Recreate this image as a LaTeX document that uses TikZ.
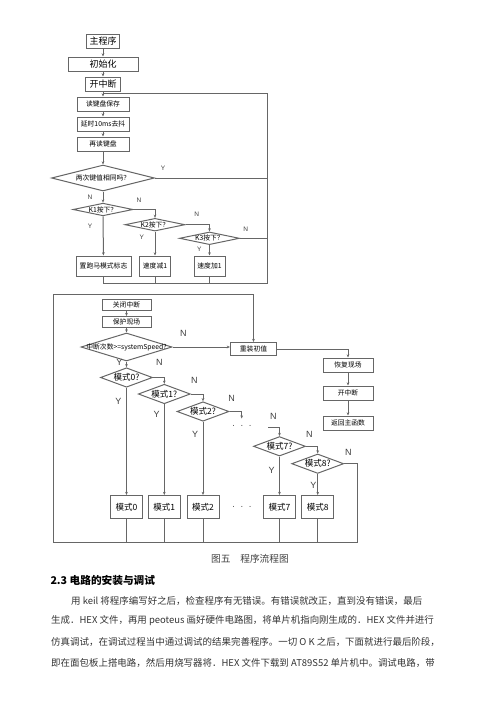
\documentclass[tikz,border=0pt]{standalone}
\usepackage{fontspec}
\setmainfont{Liberation Sans}
\newfontfamily\cjk{Noto Sans CJK SC}
\usetikzlibrary{shapes.geometric,arrows.meta}
\XeTeXlinebreaklocale "zh"
\XeTeXlinebreakskip=0pt plus 1pt

\tikzset{every picture/.style={line width=0.75pt}}
\tikzset{
  flowbox/.style={draw=black!60, rectangle, inner sep=0pt, font=\cjk\fontsize{5.1}{6}\selectfont},
  mainbox/.style={flowbox, font=\cjk\fontsize{6.75}{8}\selectfont},
  modebox/.style={flowbox, minimum width=24pt, minimum height=17.25pt, font=\cjk\fontsize{6.4}{8}\selectfont},
  decide/.style={draw=black!60, diamond, inner sep=0pt},
  modeq/.style={decide, minimum width=39pt, minimum height=14.6pt},
  qtext/.style={inner sep=0pt, font=\cjk\fontsize{5.1}{6}\selectfont},
  modeqtext/.style={inner sep=0pt, font=\cjk\fontsize{6.4}{8}\selectfont},
  yesno/.style={inner sep=0pt, text=black!75, font=\fontsize{4.9}{6}\selectfont},
  bigyesno/.style={inner sep=0pt, text=black!75, font=\fontsize{6.75}{8}\selectfont},
  flowline/.style={draw=black!60},
  flowarrow/.style={draw=black!60, -{Stealth[length=2.4pt,width=2pt]}},
  textline/.style={anchor=west, inner sep=0pt, align=justify, text=black!80, font=\cjk\fontsize{7.1}{9}\selectfont},
}

\begin{document}
\begin{tikzpicture}[x=0.75pt,y=0.75pt,yscale=-1,xscale=1]
  \useasboundingbox (0,0) rectangle (500,707);

  %Shape: Rectangle [main program]
  \node[mainbox, minimum width=24.75pt, minimum height=10.5pt] (main) at (103,41) {主程序};
  %Shape: Rectangle
  \node[mainbox, minimum width=52.5pt, minimum height=10.5pt] (init) at (103,64) {初始化};
  %Shape: Rectangle
  \node[mainbox, minimum width=26.25pt, minimum height=10.5pt] (eint) at (103,84) {开中断};
  %Shape: Rectangle
  \node[flowbox, minimum width=39pt, minimum height=10.5pt] (kread) at (103,104) {读键盘保存};
  %Shape: Rectangle
  \node[flowbox, minimum width=39pt, minimum height=10.5pt] (delay) at (103,124) {延时10ms去抖};
  %Shape: Rectangle
  \node[flowbox, minimum width=39pt, minimum height=10.5pt] (kread2) at (103,144) {再读键盘};
  %Shape: Diamond
  \node[decide, minimum width=77.25pt, minimum height=19.5pt] (same) at (103,178) {};
  \node[qtext] (samet) at (same) {两次键值相同吗？};
  %Shape: Diamond
  \node[decide, minimum width=45pt, minimum height=9.5pt] (k1) at (103,209.5) {};
  \node[qtext] (k1t) at (k1) {K1按下？};
  %Shape: Diamond
  \node[decide, minimum width=45pt, minimum height=9.5pt] (k2) at (155,224.7) {};
  \node[qtext] (k2t) at (k2) {K2按下？};
  %Shape: Diamond
  \node[decide, minimum width=45pt, minimum height=9.5pt] (k3) at (209.5,238.3) {};
  \node[qtext] (k3t) at (k3) {K3按下？};
  %Shape: Rectangle
  \node[flowbox, minimum width=41.25pt, minimum height=15pt] (mflag) at (103.5,266) {置跑马模式标志};
  %Shape: Rectangle
  \node[flowbox, minimum width=23.25pt, minimum height=15pt] (sdec) at (155,266) {速度减1};
  %Shape: Rectangle
  \node[flowbox, minimum width=23.25pt, minimum height=15pt] (sinc) at (209.5,266) {速度加1};

  \coordinate (loopa) at (103,93);
  \coordinate (loopb) at (267,93);
  \coordinate (loopc) at (267,283);
  \coordinate (loopd) at (103.5,283);

  %Straight Lines
  \draw[flowarrow] (main) -- (init);
  \draw[flowarrow] (init) -- (eint);
  \draw[flowarrow] (eint) -- (kread);
  \draw[flowarrow] (kread) -- (delay);
  \draw[flowarrow] (delay) -- (kread2);
  \draw[flowarrow] (kread2) -- (same);
  \draw[flowarrow] (same) -- (k1);
  \draw[flowarrow] (k1) -- (mflag);
  \draw[flowarrow] (k1.east) -| (k2.north);
  \draw[flowarrow] (k2) -- (sdec);
  \draw[flowarrow] (k2.east) -| (k3.north);
  \draw[flowarrow] (k3) -- (sinc);
  \draw[flowline] (k3.east) -- (k3.east -| loopb);
  \draw[flowline] (same.east) -- (same.east -| loopb);
  \draw[flowline] (mflag) -- (loopd) -- (loopc) -- (loopb) -- (loopa);
  \draw[flowline] (sdec) -- (sdec |- loopd);
  \draw[flowline] (sinc) -- (sinc |- loopd);

  % Text Node
  \node[yesno] (ysame) at (163,168) {Y};
  \node[yesno] (nsame) at (90,197) {N};
  \node[yesno] (nk1) at (139,200) {N};
  \node[yesno] (yk1) at (90,226) {Y};
  \node[yesno] (nk2) at (196.7,214) {N};
  \node[yesno] (yk2) at (141.7,237.7) {Y};
  \node[yesno] (nk3) at (245.7,229) {N};
  \node[yesno] (yk3) at (199.3,249) {Y};

  %Shape: Rectangle [interrupt]
  \node[flowbox, minimum width=36.75pt, minimum height=8.25pt] (cint) at (126.5,304.5) {关闭中断};
  %Shape: Rectangle
  \node[flowbox, minimum width=36.75pt, minimum height=8.25pt] (prot) at (126.5,322) {保护现场};
  %Shape: Diamond
  \node[decide, minimum width=68.25pt, minimum height=21pt] (cnt) at (126.5,347) {};
  \node[qtext] (cntt) at (cnt) {中断次数>=systemSpeed?};
  %Shape: Rectangle
  \node[flowbox, minimum width=34.5pt, minimum height=9.75pt] (reload) at (253.5,349) {重装初值};
  %Shape: Rectangle
  \node[flowbox, minimum width=37.5pt, minimum height=10.5pt] (resto) at (348,365) {恢复现场};
  %Shape: Rectangle
  \node[flowbox, minimum width=37.5pt, minimum height=10.5pt] (eint2) at (348,393) {开中断};
  %Shape: Rectangle
  \node[flowbox, minimum width=37.5pt, minimum height=10.5pt] (ret) at (348,423) {返回主函数};

  %Shape: Diamond
  \node[modeq] (m0q) at (126.5,377.5) {};
  \node[modeqtext] (m0qt) at (m0q) {模式0?};
  \node[modeq] (m1q) at (164.3,394) {};
  \node[modeqtext] (m1qt) at (m1q) {模式1?};
  \node[modeq] (m2q) at (203,411.5) {};
  \node[modeqtext] (m2qt) at (m2q) {模式2?};
  \node[modeq] (m7q) at (279.5,446.3) {};
  \node[modeqtext] (m7qt) at (m7q) {模式7?};
  \node[modeq] (m8q) at (317.7,463.7) {};
  \node[modeqtext] (m8qt) at (m8q) {模式8?};

  %Shape: Rectangle
  \node[modebox] (m0) at (126.5,507) {模式0};
  \node[modebox] (m1) at (164.3,507) {模式1};
  \node[modebox] (m2) at (203,507) {模式2};
  \node[modebox] (m7) at (279.5,507) {模式7};
  \node[modebox] (m8) at (317.7,507) {模式8};

  % Text Node
  \node[inner sep=0pt, font=\fontsize{7}{8}\selectfont, text=black!70] (dotsa) at (242,427) {·\ \ ·\ \ ·};
  \node[inner sep=0pt, font=\fontsize{7}{8}\selectfont, text=black!70] (dotsb) at (242,508) {·\ \ ·\ \ ·};

  \coordinate (ra) at (53,294);
  \coordinate (rb) at (53,542.5);
  \coordinate (rc) at (357,542.5);
  \coordinate (stuba) at (241.7,418.5);
  \coordinate (stubb) at (268.3,427);

  %Straight Lines
  \draw[flowarrow] (cint) -- (prot);
  \draw[flowarrow] (prot) -- (cnt);
  \draw[flowarrow] (cnt.east) -- (cnt.east -| reload.west);
  \draw[flowarrow] (rc) -- (rb) -- (ra) -| (reload);
  \draw[flowarrow] (reload.east) -| (resto);
  \draw[flowarrow] (resto) -- (eint2);
  \draw[flowarrow] (eint2) -- (ret);
  \draw[flowarrow] (cnt) -- (m0q);
  \draw[flowarrow] (m0q.east) -| (m1q.north);
  \draw[flowarrow] (m1q.east) -| (m2q.north);
  \draw[flowarrow] (m2q.east) -| (stuba);
  \draw[flowarrow] (stubb) -| (m7q.north);
  \draw[flowarrow] (m7q.east) -| (m8q.north);
  \draw[flowline] (m8q.east) -| (rc);
  \draw[flowarrow] (m0q) -- (m0);
  \draw[flowarrow] (m1q) -- (m1);
  \draw[flowarrow] (m2q) -- (m2);
  \draw[flowarrow] (m7q) -- (m7);
  \draw[flowarrow] (m8q) -- (m8);
  \draw[flowline] (m0) -- (m0 |- rb);
  \draw[flowline] (m1) -- (m1 |- rb);
  \draw[flowline] (m2) -- (m2 |- rb);
  \draw[flowline] (m7) -- (m7 |- rb);
  \draw[flowline] (m8) -- (m8 |- rb);

  % Text Node
  \node[bigyesno] (ncnt) at (183.3,333.3) {N};
  \node[bigyesno] (ycnt) at (119.3,362) {Y};
  \node[bigyesno] (nm0) at (159.3,362) {N};
  \node[bigyesno] (ym0) at (118.3,401.7) {Y};
  \node[bigyesno] (nm1) at (194.3,380) {N};
  \node[bigyesno] (ym1) at (156.7,414) {Y};
  \node[bigyesno] (nm2) at (231.7,398.3) {N};
  \node[bigyesno] (ym2) at (195,434.3) {Y};
  \node[bigyesno] (ngap) at (273.3,416.7) {N};
  \node[bigyesno] (nm7) at (309.3,434.3) {N};
  \node[bigyesno] (ym7) at (271.7,470) {Y};
  \node[bigyesno] (nm8) at (348.3,452.7) {N};
  \node[bigyesno] (ym8) at (313.3,485) {Y};

  % Text Node
  \node[inner sep=0pt, text=black!75, font=\cjk\fontsize{7.3}{9}\selectfont] (cap) at (250,559) {图五　程序流程图};
  % Text Node
  \node[anchor=west, inner sep=0pt, font=\cjk\bfseries\fontsize{8}{10}\selectfont] (sec) at (50,580) {2.3 电路的安装与调试};
  % Text Node
  \node[textline, text width=283pt] (para1) at (70.7,600.7) {\parfillskip=0pt\relax 用 keil 将程序编写好之后，检查程序有无错误。有错误就改正，直到没有错误，最后};
  \node[textline, text width=298pt] (para2) at (50.7,620.7) {\parfillskip=0pt\relax 生成．HEX 文件，再用 peoteus 画好硬件电路图，将单片机指向刚生成的．HEX 文件并进行};
  \node[textline, text width=298pt] (para3) at (50.7,641.7) {\parfillskip=0pt\relax 仿真调试，在调试过程当中通过调试的结果完善程序。一切 O K 之后，下面就进行最后阶段，};
  \node[textline, text width=298pt] (para4) at (50.7,662.7) {\parfillskip=0pt\relax 即在面包板上搭电路，然后用烧写器将．HEX 文件下载到 AT89S52 单片机中。调试电路，带};

\end{tikzpicture}
\end{document}
